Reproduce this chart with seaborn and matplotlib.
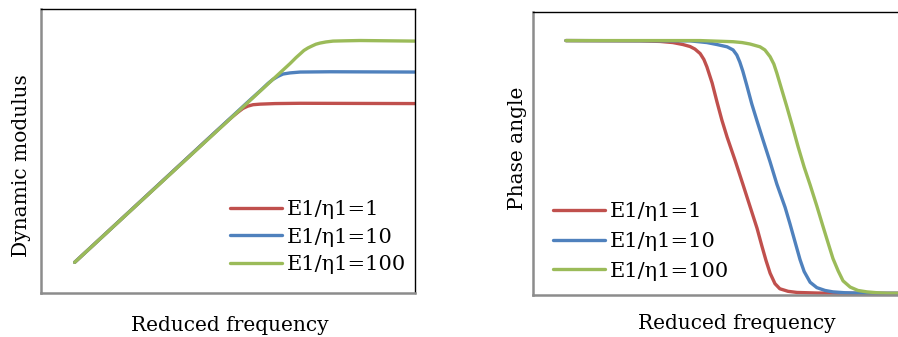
import matplotlib
matplotlib.use("Agg")
import matplotlib.pyplot as plt
import seaborn as sns
import pandas as pd

sns.set_theme(style="white")
plt.rcParams["font.family"] = ["DejaVu Serif"]
plt.rcParams["text.color"] = "black"
plt.rcParams["axes.labelcolor"] = "black"

labels = ["E1/\u03b71=1", "E1/\u03b71=10", "E1/\u03b71=100"]
colors = ["#C0504D", "#4F81BD", "#9BBB59"]

# Dynamic modulus master curves (log-log, arbitrary units)
mod_x_1 = [0.9, 4.6, 5.00, 5.13, 5.27, 5.40, 5.53, 5.67, 5.86, 6.26, 6.93, 10.0]
mod_y_1 = [1.08, 5.59, 6.07, 6.22, 6.37, 6.50, 6.58, 6.63, 6.65, 6.67, 6.68, 6.67]
mod_x_10 = [0.9, 5.5, 5.91, 6.07, 6.20, 6.34, 6.47, 6.66, 6.93, 7.73, 10.0]
mod_y_10 = [1.08, 6.69, 7.18, 7.38, 7.52, 7.63, 7.71, 7.75, 7.78, 7.79, 7.78]
mod_x_100 = [0.9, 6.66, 6.82, 6.93, 7.03, 7.14, 7.25, 7.35, 7.46, 7.62, 7.81,
             8.13, 8.53, 10.0]
mod_y_100 = [1.08, 8.08, 8.29, 8.42, 8.54, 8.63, 8.70, 8.76, 8.80, 8.84, 8.87,
             8.88, 8.89, 8.87]

# Phase angle master curves
ph_x_1 = [0.88, 2.86, 3.40, 3.74, 4.01, 4.20, 4.33, 4.47, 4.57, 4.65, 4.79,
          4.92, 5.05, 5.19, 5.40, 5.61, 5.80, 5.99, 6.12, 6.23, 6.34, 6.47,
          6.60, 6.82, 7.06, 7.59, 8.48, 10.0]
ph_y_1 = [8.99, 8.98, 8.96, 8.92, 8.85, 8.78, 8.69, 8.53, 8.32, 8.06, 7.49,
          6.82, 6.18, 5.58, 4.77, 3.92, 3.14, 2.36, 1.73, 1.22, 0.77, 0.40,
          0.22, 0.13, 0.09, 0.07, 0.06, 0.06]
ph_x_10 = [0.88, 4.20, 4.65, 4.92, 5.19, 5.35, 5.45, 5.53, 5.61, 5.72, 5.85,
           5.99, 6.15, 6.34, 6.52, 6.74, 6.87, 7.01, 7.14, 7.25, 7.41, 7.59,
           7.81, 8.02, 8.34, 8.66, 9.20, 10.0]
ph_y_10 = [8.99, 8.98, 8.92, 8.85, 8.77, 8.66, 8.48, 8.23, 7.91, 7.39, 6.75,
           6.15, 5.48, 4.70, 3.92, 3.10, 2.52, 1.86, 1.25, 0.83, 0.45, 0.26,
           0.16, 0.11, 0.08, 0.07, 0.06, 0.06]
ph_x_100 = [0.88, 4.47, 5.35, 5.59, 5.80, 6.07, 6.20, 6.34, 6.44, 6.52, 6.63,
            6.79, 6.95, 7.09, 7.25, 7.41, 7.59, 7.75, 7.89, 8.02, 8.16, 8.29,
            8.48, 8.69, 8.93, 9.20, 9.47, 10.0]
ph_y_100 = [8.99, 8.99, 8.95, 8.92, 8.87, 8.77, 8.66, 8.42, 8.16, 7.84, 7.35,
            6.64, 5.90, 5.23, 4.52, 3.89, 3.14, 2.44, 1.84, 1.29, 0.85, 0.50,
            0.28, 0.16, 0.11, 0.08, 0.06, 0.06]


def frame(xs, ys):
    parts = []
    for lab, x, y in zip(labels, xs, ys):
        parts.append(pd.DataFrame({"x": x, "y": y, "series": lab}))
    return pd.concat(parts, ignore_index=True)


mod_df = frame([mod_x_1, mod_x_10, mod_x_100], [mod_y_1, mod_y_10, mod_y_100])
ph_df = frame([ph_x_1, ph_x_10, ph_x_100], [ph_y_1, ph_y_10, ph_y_100])

W, H = 898, 337
fig = plt.figure(figsize=(W / 100, H / 100), dpi=100)
ax1 = fig.add_axes([41 / W, (H - 293) / H, 374 / W, 284 / H])
ax2 = fig.add_axes([533 / W, (H - 295) / H, 374 / W, 283 / H])

palette = dict(zip(labels, colors))
for ax, df in ((ax1, mod_df), (ax2, ph_df)):
    sns.lineplot(data=df, x="x", y="y", hue="series", palette=palette,
                 hue_order=labels, sort=False, estimator=None, lw=2.4,
                 ax=ax, legend=True, solid_capstyle="round",
                 solid_joinstyle="round")
    ax.set_xlim(0, 10)
    ax.set_ylim(0, 10)
    ax.set_xticks([])
    ax.set_yticks([])
    for s in ("top", "right"):
        ax.spines[s].set_color("black")
        ax.spines[s].set_linewidth(1.0)
    for s in ("left", "bottom"):
        ax.spines[s].set_color("#8c8c8c")
        ax.spines[s].set_linewidth(1.8)
    ax.set_xlabel("Reduced frequency", fontsize=14.5, va="top")

ax1.set_ylabel("Dynamic modulus", fontsize=14.5)
ax2.set_ylabel("Phase angle", fontsize=14.5)
ax1.yaxis.set_label_coords(-0.027, 0.447)
ax2.yaxis.set_label_coords(-0.016, 0.52)
ax1.xaxis.set_label_coords(0.505, -0.08)
ax2.xaxis.set_label_coords(0.545, -0.066)

leg_kw = dict(frameon=False, fontsize=15, handlelength=2.5, handletextpad=0.25,
              borderpad=0, borderaxespad=0, loc="upper left")
h1, l1 = ax1.get_legend_handles_labels()
ax1.legend(h1, l1, bbox_to_anchor=((230 - 41) / 374, (293 - 200) / 284),
           labelspacing=0.42, **leg_kw)
h2, l2 = ax2.get_legend_handles_labels()
ax2.legend(h2, l2, bbox_to_anchor=((553 - 533) / 374, (295 - 202) / 283),
           labelspacing=0.52, **leg_kw)

fig.savefig("out.png", dpi=100)
